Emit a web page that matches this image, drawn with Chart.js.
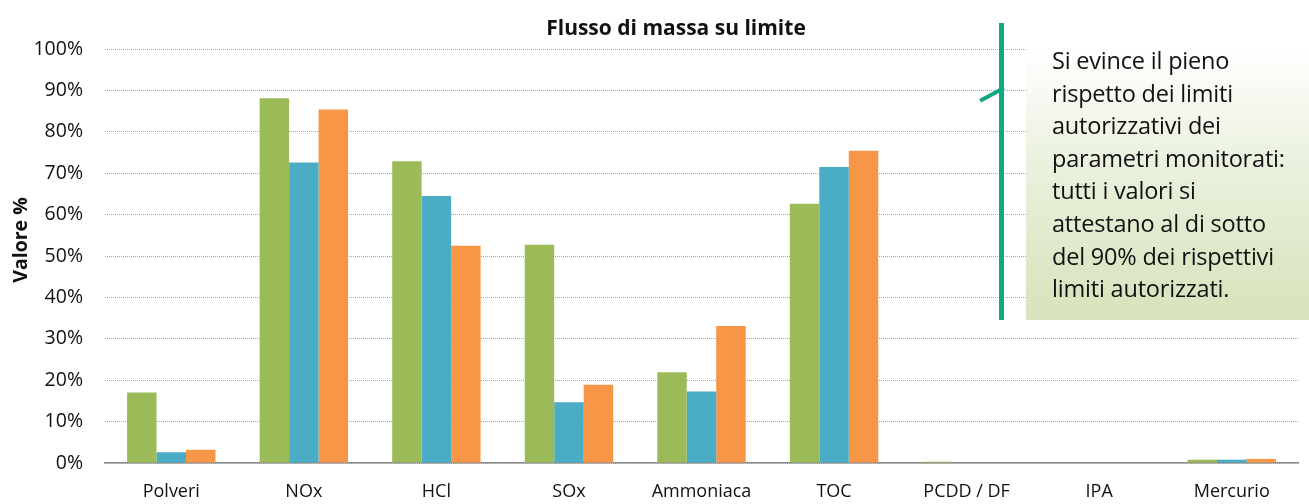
<!DOCTYPE html>
<html lang="it">
<head>
  <meta charset="UTF-8">
  <title>Flusso di massa su limite</title>
  <script src="https://cdn.jsdelivr.net/npm/chart.js"></script>
  <style>
    html, body { margin: 0; padding: 0; background: #ffffff; }
    .wrap { position: relative; width: 1309px; height: 504px; overflow: hidden; }
    #massChart { position: absolute; left: 0; top: 0; }
    .nota-linea { position: absolute; left: 999px; top: 23px; width: 5px; height: 297px; background: #0fa882; }
    .nota-tacca { position: absolute; left: 977px; top: 86px; width: 27px; height: 4px; background: #0fa882;
                  transform: rotate(-28deg); transform-origin: right center; }
    .nota {
      position: absolute; left: 1026px; top: 48px; width: 283px; height: 272px;
      background: linear-gradient(to bottom, #ffffff 0%, #e9f0dc 45%, #d6e3bb 100%);
      box-sizing: border-box; padding: 0 0 0 26px;
      font-family: "Open Sans", "Noto Sans", sans-serif; font-size: 23.5px; line-height: 32.6px; color: #111;
      letter-spacing: -0.2px;
    }
    .nota div { margin-top: -4px; }
  </style>
</head>
<body>
  <div class="wrap">
    <canvas id="massChart" width="1309" height="504"></canvas>
    <div class="nota-linea"></div>
    <div class="nota-tacca"></div>
    <div class="nota"><div>Si evince il pieno<br>rispetto dei limiti<br>autorizzativi dei<br>parametri monitorati:<br>tutti i valori si<br>attestano al di sotto<br>del 90% dei rispettivi<br>limiti autorizzati.</div></div>
  </div>

  <script>
    // parametri monitorati
    const parametri = ['Polveri', 'NOx', 'HCl', 'SOx', 'Ammoniaca', 'TOC', 'PCDD / DF', 'IPA', 'Mercurio'];

    // flusso di massa in % del limite, tre serie
    const serieVerde   = [17.0, 88.1, 72.9, 52.7, 21.9, 62.6, 0.3, 0, 0.8];
    const serieAzzurra = [2.6, 72.6, 64.5, 14.7, 17.3, 71.5, 0, 0, 0.8];
    const serieArancio = [3.2, 85.4, 52.5, 18.9, 33.1, 75.4, 0, 0, 1.0];

    const tickY = [0, 10, 20, 30, 40, 50, 60, 70, 80, 90, 100];

    const titolo = 'Flusso di massa su limite';
    const titoloAsseY = 'Valore %';
    const fontTesto = '"Open Sans", "Noto Sans", sans-serif';

    // titolo del grafico e titolo dell'asse Y disegnati a mano
    const titoliPlugin = {
      id: 'titoliGrafico',
      afterDraw(chart) {
        const ctx = chart.ctx;
        ctx.save();
        ctx.fillStyle = '#111111';
        ctx.textAlign = 'center';
        ctx.textBaseline = 'middle';
        ctx.font = 'bold 21px ' + fontTesto;
        ctx.fillText(titolo, 676, 29);

        ctx.translate(21, 240);
        ctx.rotate(-Math.PI / 2);
        ctx.font = 'bold 19.5px ' + fontTesto;
        ctx.fillText(titoloAsseY, 0, 0);
        ctx.restore();
      }
    };

    const ctx = document.getElementById('massChart').getContext('2d');
    new Chart(ctx, {
      type: 'bar',
      data: {
        labels: parametri,
        datasets: [
          { label: 'A', data: serieVerde, backgroundColor: '#9bbb59' },
          { label: 'B', data: serieAzzurra, backgroundColor: '#4bacc6' },
          { label: 'C', data: serieArancio, backgroundColor: '#f79646' }
        ]
      },
      options: {
        responsive: false,
        animation: false,
        layout: { padding: { left: 0, right: 11, top: 49, bottom: 0 } },
        datasets: { bar: { categoryPercentage: 0.667, barPercentage: 1.0, borderWidth: 0 } },
        plugins: {
          legend: { display: false },
          tooltip: { enabled: false },
          title: { display: false }
        },
        scales: {
          y: {
            min: 0,
            max: 100,
            afterBuildTicks(scale) { scale.ticks = tickY.map(v => ({ value: v })); },
            afterFit(scale) { scale.width = 105; },
            grid: {
              color: '#a6a6a6',
              lineWidth: 1,
              drawTicks: false
            },
            border: { display: false, dash: [1, 1] },
            ticks: {
              color: '#111111',
              font: { family: fontTesto, size: 19.5 },
              padding: 22,
              callback: v => v + '%'
            }
          },
          x: {
            afterFit(scale) { scale.height = 41; },
            grid: { display: false, drawTicks: false },
            border: { display: true, color: '#8c8c8c', width: 1.5 },
            ticks: {
              color: '#111111',
              font: { family: fontTesto, size: 18 },
              padding: 18,
              maxRotation: 0,
              autoSkip: false
            }
          }
        }
      },
      plugins: [titoliPlugin]
    });
  </script>
</body>
</html>
